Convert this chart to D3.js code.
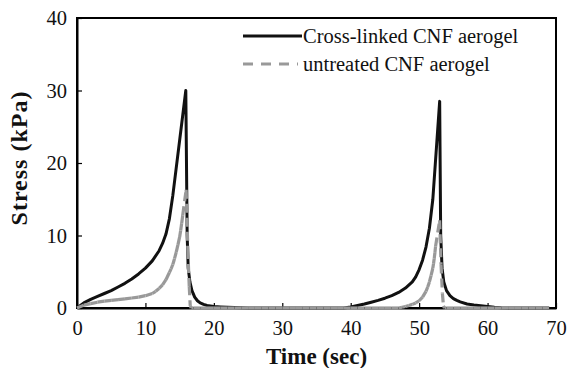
<!DOCTYPE html>
<html>
<head>
<meta charset="utf-8">
<script src="https://cdn.jsdelivr.net/npm/d3@7"></script>
<style>
  body { margin: 0; background: #fff; }
</style>
</head>
<body>
<script>
// data
var crossTime = [0, 1, 2, 3, 4, 5, 6, 7, 8, 9, 10, 11, 12, 12.5, 13, 13.5, 14, 15.9,
  16.1, 16.25, 16.5, 16.8, 17.2, 17.6, 18, 18.5, 19, 20, 21, 22, 23, 24, 25, 26, 28, 30,
  32, 34, 36, 38, 39, 40, 41, 42, 43, 44, 45, 46, 47, 48, 49, 49.5, 50, 50.5, 51, 51.5,
  52, 53, 53.15, 53.35, 53.6, 54, 54.5, 55, 55.5, 56, 57, 58, 59, 60, 61, 62, 63, 65, 67, 69];
var crossStress = [0, 0.7, 1.2, 1.6, 2.0, 2.4, 2.9, 3.4, 4.0, 4.7, 5.5, 6.5, 7.9, 8.9, 10.2, 12.3, 15.5, 30.0,
  10, 5.5, 3.6, 2.4, 1.5, 1.0, 0.7, 0.5, 0.35, 0.22, 0.15, 0.1, 0.06, 0.03, 0, 0, 0, 0,
  0, 0, 0, 0, 0, 0.15, 0.35, 0.55, 0.8, 1.05, 1.35, 1.7, 2.15, 2.75, 3.6, 4.3, 5.3, 6.6, 8.4, 11.0,
  15.0, 28.5, 10, 5.5, 3.6, 2.4, 1.7, 1.3, 1.05, 0.85, 0.55, 0.4, 0.3, 0.2, 0.1, 0.03, 0, 0, 0, 0];

var untreatedTime = [0, 1, 2, 3, 4, 5, 6, 7, 8, 9, 10, 11, 11.5, 12, 12.5, 13, 13.5, 13.75, 14, 14.25, 14.5,
  14.75, 15, 15.15, 15.3, 15.45, 15.95, 16.2, 16.4, 16.55, 16.7, 17, 18, 19, 20, 21, 22, 23, 24, 25, 26, 27, 28,
  29, 30, 31, 32, 33, 34, 35, 36, 37, 38, 39, 40, 41, 42, 43, 44, 45, 46, 47, 47.5, 48, 48.5,
  49, 49.5, 50, 50.5, 51, 51.25, 51.5, 51.75, 52, 52.1, 52.2, 52.3, 52.4, 53.0, 53.2, 53.4, 53.55, 53.7, 54, 55, 56, 57, 58,
  59, 60, 61, 62, 63, 64, 65, 66, 67, 68, 69];
var untreatedStress = [0, 0.4, 0.6, 0.8, 0.95, 1.05, 1.15, 1.25, 1.38, 1.5, 1.7, 2.0, 2.3, 2.7, 3.2, 3.9, 4.9, 5.4, 6.0, 6.8, 7.7,
  8.7, 9.8, 10.7, 11.7, 12.8, 16.3, 8, 3, 0.3, 0, 0, 0, 0, 0, 0, 0, 0, 0, 0, 0, 0, 0,
  0, 0, 0, 0, 0, 0, 0, 0, 0, 0, 0, 0, 0, 0, 0, 0, 0, 0, 0, 0.1, 0.2, 0.35,
  0.5, 0.7, 1.0, 1.5, 2.3, 2.9, 3.6, 4.5, 5.5, 6.1, 6.8, 7.6, 8.5, 12.1, 6, 2, 0.3, 0, 0, 0, 0, 0, 0,
  0, 0, 0, 0, 0, 0, 0, 0, 0, 0, 0];

var seriesNames = ["Cross-linked CNF aerogel", "untreated CNF aerogel"];
var xTicks = [0, 10, 20, 30, 40, 50, 60, 70];
var yTicks = [0, 10, 20, 30, 40];

var serif = "Liberation Serif";

function main() {
  var margin = {top: 18, right: 12, bottom: 60, left: 77},
    width = 568 - margin.left - margin.right,
    height = 368 - margin.top - margin.bottom;

  var xScale = d3.scaleLinear().domain([0, 70]).range([0, width]);
  var yScale = d3.scaleLinear().domain([0, 40]).range([height, 0]);

  var svg = d3.select("body").append("svg")
    .attr("width", 568)
    .attr("height", 368)
    .attr("font-family", serif)
    .append("g")
    .attr("transform", "translate(" + margin.left + "," + margin.top + ")");

  var cross = crossTime.map(function(t, i) { return [t, crossStress[i]]; });
  var untreated = untreatedTime.map(function(t, i) { return [t, untreatedStress[i]]; });

  var line = d3.line()
    .x(function(d) { return xScale(d[0]); })
    .y(function(d) { return yScale(d[1]); });

  // frame
  svg.append("rect")
    .attr("width", width).attr("height", height)
    .attr("fill", "none").attr("stroke", "#000").attr("stroke-width", 2);

  // axes, ticks inward
  var xAxis = svg.append("g")
    .attr("transform", "translate(0," + height + ")")
    .call(d3.axisBottom(xScale).tickValues(xTicks).tickSizeInner(-5).tickSizeOuter(0).tickPadding(12));
  var yAxis = svg.append("g")
    .call(d3.axisLeft(yScale).tickValues(yTicks).tickSizeInner(-5).tickSizeOuter(0).tickPadding(10));
  [xAxis, yAxis].forEach(function(a) {
    a.attr("font-family", serif);
    a.select(".domain").attr("stroke-width", 2);
    a.selectAll("line").attr("stroke-width", 1.2);
    a.selectAll("text").attr("font-size", 20.5).attr("fill", "#111");
  });

  // cross-linked: solid black
  svg.append("path")
    .datum(cross)
    .attr("fill", "none")
    .attr("stroke", "#111")
    .attr("stroke-width", 3)
    .attr("stroke-linejoin", "round")
    .attr("d", line);

  // untreated: gray dashed, pattern restarting on every segment
  svg.append("g").selectAll("path")
    .data(d3.pairs(untreated))
    .join("path")
    .attr("fill", "none")
    .attr("stroke", "#999")
    .attr("stroke-width", 3.2)
    .attr("stroke-dasharray", "9,5")
    .attr("d", line);

  // legend
  var legend = svg.append("g").attr("transform", "translate(166,18)");
  seriesNames.forEach(function(name, i) {
    var row = legend.append("g").attr("transform", "translate(0," + (i * 28) + ")");
    row.append("line")
      .attr("x1", 0).attr("x2", i === 0 ? 59 : 55)
      .attr("stroke", i === 0 ? "#111" : "#999")
      .attr("stroke-width", 3)
      .attr("stroke-dasharray", i === 0 ? null : "10,8");
    row.append("text")
      .attr("x", 60).attr("y", 7)
      .attr("font-size", 20.5)
      .attr("fill", "#111")
      .text(name);
  });

  // axis titles
  svg.append("text")
    .attr("x", width / 2).attr("y", height + 56)
    .attr("text-anchor", "middle")
    .attr("font-size", 23).attr("font-weight", "bold")
    .attr("fill", "#111")
    .text("Time (sec)");
  svg.append("text")
    .attr("transform", "translate(-50," + (height / 2 - 5) + ") rotate(-90)")
    .attr("text-anchor", "middle")
    .attr("font-size", 24).attr("font-weight", "bold")
    .attr("letter-spacing", 1)
    .attr("fill", "#111")
    .text("Stress (kPa)");
}
main();
</script>
</body>
</html>
